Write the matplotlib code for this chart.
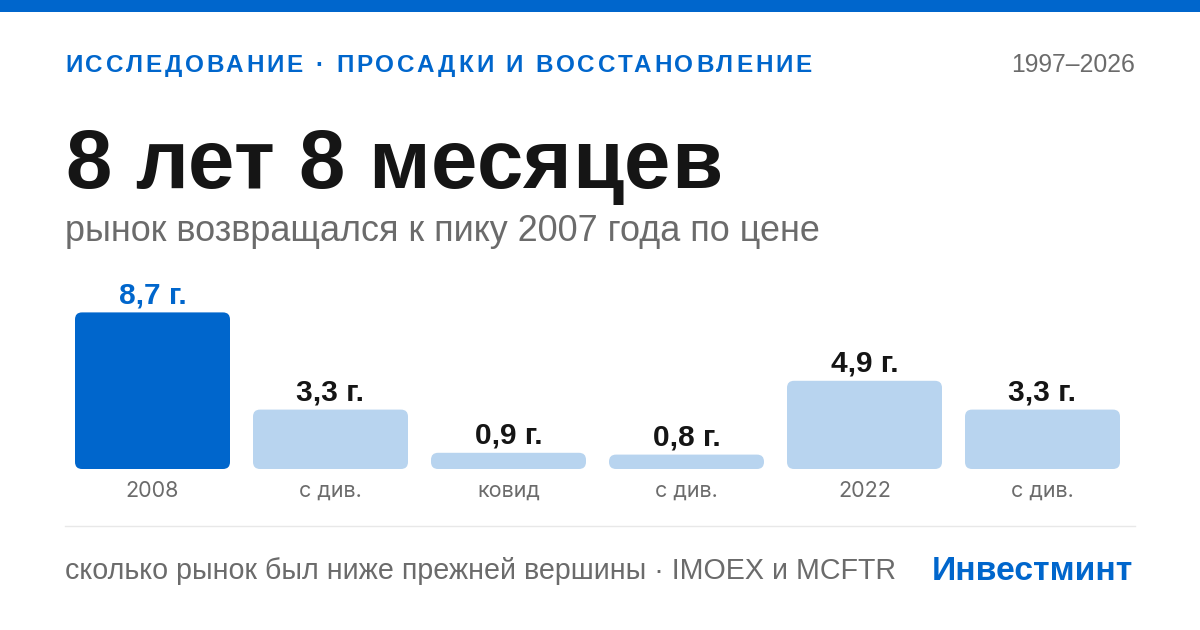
import matplotlib
matplotlib.use('Agg')
import matplotlib.pyplot as plt
from matplotlib.patches import FancyBboxPatch, Rectangle
from matplotlib.lines import Line2D
from matplotlib.font_manager import FontProperties

# ---------------- data ----------------
categories = ['2008', 'с див.', 'ковид', 'с див.', '2022', 'с див.']
years = [8.7, 3.3, 0.9, 0.8, 4.9, 3.3]
value_labels = ['8,7 г.', '3,3 г.', '0,9 г.', '0,8 г.', '4,9 г.', '3,3 г.']
highlight = [True, False, False, False, False, False]

kicker = 'ИССЛЕДОВАНИЕ · ПРОСАДКИ И ВОССТАНОВЛЕНИЕ'
period = '1997–2026'
title = '8 лет 8 месяцев'
subtitle = 'рынок возвращался к пику 2007 года по цене'
footnote = 'сколько рынок был ниже прежней вершины · IMOEX и MCFTR'
brand = 'Инвестминт'

# ---------------- style ----------------
W, H = 1200, 630
BLUE = '#0066CC'
LIGHT = '#B8D4EF'
INK = '#151515'
GRAY = '#6B6B6B'
RULE = '#E8E8E8'
HELV = ['Liberation Sans', 'DejaVu Sans']
INTER = ['Inter', 'DejaVu Sans']

fig = plt.figure(figsize=(12, 6.3), dpi=100)
fig.patch.set_facecolor('white')
renderer = fig.canvas.get_renderer()


def fx(x):
    return x / W


def fy(y):
    return 1 - y / H


def prop(family, size, weight='normal'):
    return FontProperties(family=family, size=size, weight=weight)


def tw(s, p):
    w, h, d = renderer.get_text_width_height_descent(s, p, ismath=False)
    return w


def fit_size(s, family, weight, target):
    p = prop(family, 20, weight)
    return 20 * target / tw(s, p)


def tracked(x, base, s, p, color, target):
    n = len(s)
    natural = tw(s, p)
    track = (target - natural) / (n - 1)
    for i, c in enumerate(s):
        if c == ' ':
            continue
        left = tw(s[:i + 1], p) - tw(c, p) + i * track
        fig.text(fx(x + left), fy(base), c, fontproperties=p, color=color,
                 ha='left', va='baseline')


# top stripe
fig.add_artist(Rectangle((0, fy(12)), 1, 12 / H, transform=fig.transFigure,
                         facecolor=BLUE, edgecolor='none'))

# header
tracked(65, 72, kicker, prop(HELV, 17.5, 'bold'), BLUE, 747)
fig.text(fx(1135), fy(72), period,
         fontproperties=prop(HELV, fit_size(period, HELV, 'normal', 124)),
         color=GRAY, ha='right', va='baseline')

# title & subtitle
tracked(65, 188, title, prop(HELV, 60, 'bold'), INK, 657)
fig.text(fx(65), fy(241), subtitle,
         fontproperties=prop(HELV, fit_size(subtitle, HELV, 'normal', 755)),
         color=GRAY, ha='left', va='baseline')

# bars
ax = fig.add_axes([fx(63.5), fy(469), 1068 / W, 180 / H])
ax.set_xlim(-0.5, 5.5)
ax.set_ylim(0, 10)
ax.axis('off')
xs = list(range(len(years)))
colors = [BLUE if h else LIGHT for h in highlight]
bars = ax.bar(xs, years, width=155 / 178, color=colors)
rx = 7 / 178
asp = 178 / 18
for b, c in zip(bars, colors):
    r = FancyBboxPatch((b.get_x(), b.get_y()), b.get_width(), b.get_height(),
                       boxstyle=f'round,pad=0,rounding_size={rx}',
                       mutation_aspect=asp, facecolor=c, edgecolor='none',
                       clip_on=False)
    b.set_visible(False)
    ax.add_patch(r)

pt = 72 / 100
for i, (v, lbl, h) in enumerate(zip(years, value_labels, highlight)):
    col = BLUE if h else INK
    ax.annotate(lbl, (i, v), xytext=(0, 9 * pt), textcoords='offset points',
                ha='center', va='baseline', fontsize=21.5, fontweight='bold',
                family=HELV, color=col, annotation_clip=False)
    ax.annotate(categories[i], (i, 0), xytext=(0, -28 * pt),
                textcoords='offset points', ha='center', va='baseline',
                fontsize=15.5, family=INTER, color=GRAY, annotation_clip=False)

# rule
fig.add_artist(Line2D([fx(65), fx(1135)], [fy(525.5), fy(525.5)],
                      transform=fig.transFigure, color=RULE, lw=1))

# footer
fig.text(fx(65), fy(579), footnote,
         fontproperties=prop(HELV, fit_size(footnote, HELV, 'normal', 828)),
         color=GRAY, ha='left', va='baseline')
fig.text(fx(1133), fy(580), brand,
         fontproperties=prop(HELV, fit_size(brand, HELV, 'bold', 201), 'bold'),
         color=BLUE, ha='right', va='baseline')

fig.savefig('out.png', dpi=100, facecolor='white')
